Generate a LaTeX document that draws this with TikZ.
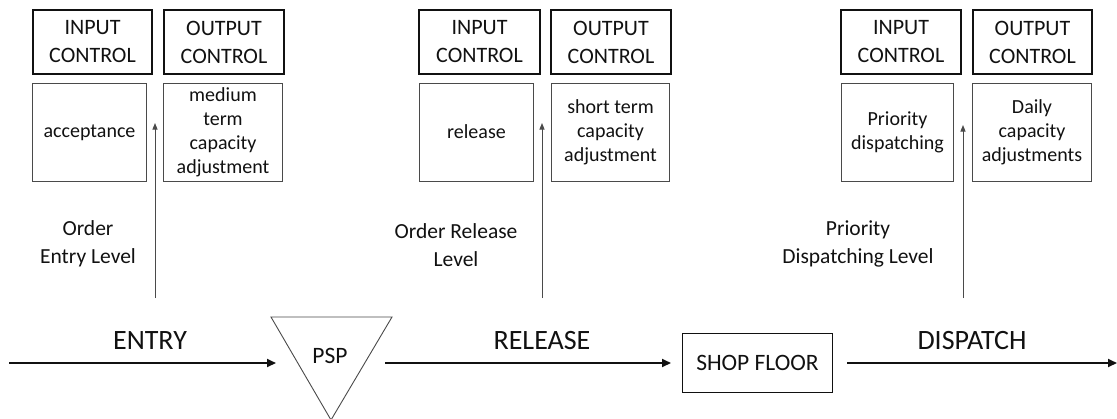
\documentclass[tikz,border=0pt]{standalone}
\usepackage{fontspec}
\setmainfont{Carlito}
\usetikzlibrary{arrows.meta}
\definecolor{ink}{HTML}{111111}
\definecolor{thin}{HTML}{4A4A4A}
\begin{document}
\begin{tikzpicture}[x=1pt,y=-1pt,
  head/.style={draw=ink,line width=2.6pt,inner sep=0pt,align=center,
    font=\fontsize{22}{28}\selectfont,text=ink,minimum height=64pt},
  task/.style={draw=thin,line width=0.9pt,inner sep=0pt,align=center,
    font=\fontsize{20}{24}\selectfont,text=ink,minimum height=98pt},
  level/.style={align=center,font=\fontsize{21.5}{27.5}\selectfont,text=ink},
  stage/.style={font=\fontsize{28}{30}\selectfont,text=ink},
  flow/.style={line width=2pt,draw=ink,-{Triangle[length=9pt,width=8pt]}},
  feed/.style={line width=1pt,draw=thin,-{Triangle[length=6.5pt,width=5pt]}}
]
\useasboundingbox (0,0) rectangle (1117,418);

% --- order entry level ---
\node[head,minimum width=119pt] (in1) at (92.5,42) {INPUT\\CONTROL};
\node[head,minimum width=120pt] (out1) at (224,42) {OUTPUT\\CONTROL};
\node[task,minimum width=114pt] (acc) at (89.5,132.5) {acceptance};
\node[task,minimum width=119pt] (med) at (223,132.5) {medium\\term\\capacity\\adjustment};
\node[level] (lv1) at (88,244) {Order\\Entry Level};
\coordinate (f1a) at (155,298);
\coordinate (f1b) at (155,123);
\draw[feed] (f1a) -- (f1b);

% --- order release level ---
\node[head,minimum width=121pt] (in2) at (479.5,42) {INPUT\\CONTROL};
\node[head,minimum width=120pt] (out2) at (611,42) {OUTPUT\\CONTROL};
\node[task,minimum width=114pt] (rel) at (476.5,132) {release};
\node[task,minimum width=118pt] (short) at (610.5,132) {short term\\capacity\\adjustment};
\node[level] (lv2) at (456,245) {Order Release\\Level};
\coordinate (f2a) at (542,298);
\coordinate (f2b) at (542,123);
\draw[feed] (f2a) -- (f2b);

% --- priority dispatching level ---
\node[head,minimum width=120pt] (in3) at (901,42) {INPUT\\CONTROL};
\node[head,minimum width=119pt] (out3) at (1032.5,42) {OUTPUT\\CONTROL};
\node[task,minimum width=112pt] (prio) at (897.5,132.5) {Priority\\dispatching};
\node[task,minimum width=119pt] (daily) at (1032,132.5) {Daily\\capacity\\adjustments};
\node[level] (lv3) at (858,244) {Priority\\Dispatching Level};
\coordinate (f3a) at (963,298);
\coordinate (f3b) at (963,125);
\draw[feed] (f3a) -- (f3b);

% --- material flow ---
\draw[draw=thin,line width=0.9pt] (271,317) -- (392,317) -- (331,420) -- cycle;
\node[font=\fontsize{23.5}{26}\selectfont,text=ink] (psp) at (330,356) {PSP};
\node[draw=ink,line width=0.9pt,minimum width=150pt,minimum height=59pt,
  inner sep=0pt,font=\fontsize{23.5}{26}\selectfont,text=ink] (shop) at (757.5,362.5) {SHOP FLOOR};

\coordinate (s0) at (9,363);
\coordinate (s1) at (276,363);
\coordinate (s2) at (385,363);
\coordinate (s3) at (671,363);
\coordinate (s4) at (847,363);
\coordinate (s5) at (1117,363);
\draw[flow] (s0) -- (s1);
\draw[flow] (s2) -- (s3);
\draw[flow] (s4) -- (s5);

\node[stage] (entry) at (150,341) {ENTRY};
\node[stage] (release) at (542,341) {RELEASE};
\node[stage] (dispatch) at (972,341) {DISPATCH};
\end{tikzpicture}
\end{document}
